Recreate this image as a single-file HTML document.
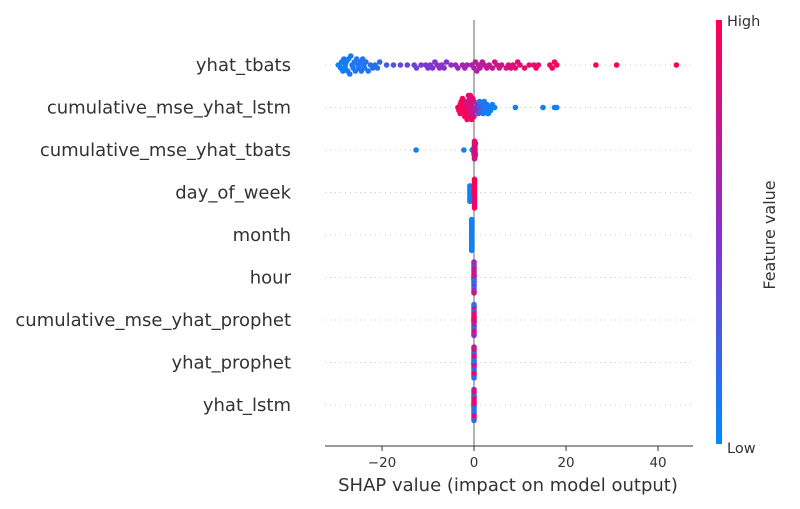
<!DOCTYPE html>
<html><head><meta charset="utf-8"><style>
html,body{margin:0;padding:0;background:#fff;}
svg{display:block;font-family:"DejaVu Sans","Liberation Sans",sans-serif;}
</style></head><body>
<svg id="chart" width="800" height="509" viewBox="0 0 800 509">
<defs>
<linearGradient id="cb" x1="0" y1="1" x2="0" y2="0">
<stop offset="0" stop-color="#008afb"/><stop offset="0.5" stop-color="#8a2fc8"/><stop offset="1" stop-color="#ff0052"/>
</linearGradient>
</defs>
<g id="grid"></g>
<line x1="474" y1="20" x2="474" y2="446" stroke="#999" stroke-width="1.5"/>
<g id="dots"></g>
<g id="labels"></g>
<line x1="325" y1="446" x2="693" y2="446" stroke="#333" stroke-width="1"/>
<g id="ticks"></g>
<text x="508" y="491" text-anchor="middle" font-size="18" fill="#333">SHAP value (impact on model output)</text>
<rect x="716" y="20" width="6" height="424" fill="url(#cb)"/>
<text x="727" y="26" font-size="14.5" fill="#333">High</text>
<text x="727" y="453" font-size="14.5" fill="#333">Low</text>
<text transform="translate(775,235) rotate(-90)" text-anchor="middle" font-size="16" fill="#333">Feature value</text>
</svg>
<script>
const features = ["yhat_tbats","cumulative_mse_yhat_lstm","cumulative_mse_yhat_tbats","day_of_week","month","hour","cumulative_mse_yhat_prophet","yhat_prophet","yhat_lstm"];
const xTicks = [-20, 0, 20, 40];
const shapTbats = [-29.5,-29.3,-29,-28.8,-28.5,-28.3,-28,-28,-27.8,-27.5,-27.3,-27,-26.8,-26.5,-26.3,-26,-25.8,-25.5,-25.2,-25,-24.8,-24.5,-24.2,-24,-23.8,-23.5,-23,-22.5,-22,-21.5,-21,-20.5,-19,-17.5,-16,-14.5,-13,-12.5,-11.5,-10.5,-10,-9.5,-9,-8.5,-8,-7.5,-7,-6.5,-6,-5,-4,-3.5,-2.5,-2,-1.5,-0.5,0,0.3,0.6,1,1.3,1.8,2.2,2.8,3.3,4,4.5,5,5.5,6,7,7.5,8,8.5,9,9.5,10,11,12,13,13.5,14,16.5,17,17.5,18,26.5,31,44];
const featTbats = [0.05,0.05,0.05,0.08,0.05,0.1,0.06,0.05,0.1,0.08,0.06,0.1,0.1,0.08,0.1,0.12,0.08,0.1,0.12,0.1,0.1,0.12,0.12,0.1,0.12,0.15,0.12,0.15,0.15,0.15,0.15,0.18,0.25,0.3,0.35,0.38,0.4,0.38,0.42,0.45,0.43,0.45,0.48,0.45,0.47,0.5,0.48,0.5,0.5,0.52,0.55,0.55,0.58,0.6,0.6,0.65,0.62,0.68,0.66,0.7,0.68,0.72,0.7,0.72,0.75,0.74,0.76,0.78,0.77,0.8,0.8,0.82,0.82,0.84,0.85,0.85,0.86,0.88,0.88,0.9,0.92,0.92,0.95,0.96,0.97,0.97,1,1,1];
const shapLstm = [-3.5,-3.3,-3,-3,-2.8,-2.5,-2.5,-2.2,-2,-2,-1.8,-1.5,-1.5,-1.3,-1,-1,-0.8,-0.5,-0.5,-0.3,0,0,-0.3,-0.5,-1,-1.5,-2,-2.5,-0.8,-1.2,0.3,0.5,0.8,1,1.3,1.5,1.8,2,2.3,2.5,2.8,3,3.3,3.6,4,4.5,1.2,2.2,3.1,9,15,17.5,18];
const featLstm = [1,0.95,1,0.9,0.95,0.92,1,0.9,0.95,0.85,0.9,0.92,0.85,0.88,0.8,0.9,0.85,0.75,0.8,0.7,0.65,0.75,0.9,0.95,0.85,0.92,1,0.95,0.9,0.85,0.5,0.6,0.4,0.3,0.25,0.2,0.15,0.1,0.12,0.1,0.08,0.05,0.08,0.05,0.05,0.05,0.1,0.08,0.05,0.05,0.05,0.05,0.05];
const shapMseTbats = [-12.6,-2.2,-0.4,0,0,0,0.1,0.1,0.1,0.2,0.2,0.2,0.3,0.1,0.2,0.2,0.1,0.3];
const featMseTbats = [0.05,0.05,0.05,0.8,0.85,0.75,0.8,0.9,0.7,0.85,0.8,0.9,0.8,0.75,0.85,0.8,0.95,0.85];
const shapDow = [-0.9,-0.9,-0.9,-0.9,-0.9,-0.9,-0.9,-0.9,0.1,0.1,0.1,0.1,0.1,0.1,0.1,0.1,0.1,0.1,0.1,0.1,0.1,0.1];
const featDow = [0.05,0.05,0.05,0.05,0.05,0.05,0.05,0.05,1,0.95,1,0.9,1,0.95,1,0.9,1,0.95,1,0.9,1,0.95];
const shapMonth = [-0.5,-0.5,-0.5,-0.5,-0.5,-0.5,-0.5,-0.5,-0.5,-0.5,-0.5,-0.5,-0.5,-0.5,-0.5,-0.5,-0.5];
const featMonth = [0.05,0.05,0.05,0.05,0.05,0.05,0.05,0.05,0.05,0.05,0.05,0.05,0.05,0.05,0.05,0.05,0.05];
const shapHour = [0,0,0,0,0,0,0,0,0,0,0,0,0,0,0,0,0];
const featHour = [0.5,0.8,0.2,0.9,0.6,0.1,0.85,0.4,0.7,0.15,0.9,0.5,0.3,0.8,0.6,0.1,0.75];
const shapProphetMse = [0,0,0,0,0,0,0,0,0,0,0,0,0,0,0,0,0];
const featProphetMse = [0.85,0.9,0.7,0.2,0.85,0.6,0.9,0.1,0.8,0.75,0.2,0.9,0.85,0.5,0.15,0.8,0.9];
const shapProphet = [0,0,0,0,0,0,0,0,0,0,0,0,0,0,0,0,0];
const featProphet = [0.9,0.8,0.2,0.95,0.85,0.3,0.9,0.1,0.8,0.95,0.2,0.85,0.9,0.15,0.7,0.8,0.1];
const shapYLstm = [0,0,0,0,0,0,0,0,0,0,0,0,0,0,0,0,0];
const featYLstm = [0.9,0.8,0.95,0.1,0.85,0.2,0.9,0.15,0.8,0.95,0.1,0.85,0.9,0.2,0.7,0.1,0.85];

const shapSeries = [shapTbats,shapLstm,shapMseTbats,shapDow,shapMonth,shapHour,shapProphetMse,shapProphet,shapYLstm];
const featSeries = [featTbats,featLstm,featMseTbats,featDow,featMonth,featHour,featProphetMse,featProphet,featYLstm];

const NS="http://www.w3.org/2000/svg";
const x0=325,x1=693,vmin=-32.4,vmax=47.6;
function xScale(v){return x0+(v-vmin)/(vmax-vmin)*(x1-x0);}
function rowY(i){return 65+i*42.5;}
function color(t){
  const a=[0,138,251],m=[138,47,200],b=[255,0,82];
  let c;
  if(t<0.5){const u=t/0.5;c=a.map((v,k)=>Math.round(v+(m[k]-v)*u));}
  else{const u=(t-0.5)/0.5;c=m.map((v,k)=>Math.round(v+(b[k]-v)*u));}
  return "rgb("+c.join(",")+")";
}
const grid=document.getElementById('grid'),dots=document.getElementById('dots'),labels=document.getElementById('labels'),ticks=document.getElementById('ticks');
features.forEach((f,i)=>{
  const y=rowY(i);
  const g=document.createElementNS(NS,'line');
  g.setAttribute('x1',x0);g.setAttribute('x2',x1);g.setAttribute('y1',y);g.setAttribute('y2',y);
  g.setAttribute('stroke','#ccc');g.setAttribute('stroke-dasharray','1,4');g.setAttribute('stroke-width','1');
  
  
  grid.appendChild(g);
  const t=document.createElementNS(NS,'text');
  t.setAttribute('x',291);t.setAttribute('y',y+6);t.setAttribute('text-anchor','end');
  t.setAttribute('font-size','18');t.setAttribute('fill','#333');t.textContent=f;
  
  
  labels.appendChild(t);
  const vals=shapSeries[i],cols=featSeries[i];
  const bins={};
  const bw=(i===0)?6:4.5;
  vals.forEach((v,j)=>{
    const px=xScale(v);
    const b=Math.round(px/bw);
    const k=bins[b]||0;bins[b]=k+1;
    const layer=Math.ceil(k/2)*(k%2?1:-1);
    let off=layer*(i<2?3:2.2);
    if(Math.abs(off)>16){off=(off%16);}
    const c=document.createElementNS(NS,'circle');
    c.setAttribute('cx',px.toFixed(1));c.setAttribute('cy',(y+off).toFixed(1));c.setAttribute('r','2.8');
    c.setAttribute('fill',color(cols[j]));
    
    
    dots.appendChild(c);
  });
});
xTicks.forEach(v=>{
  const px=xScale(v);
  const l=document.createElementNS(NS,'line');
  l.setAttribute('x1',px);l.setAttribute('x2',px);l.setAttribute('y1',446);l.setAttribute('y2',451);
  l.setAttribute('stroke','#333');
  
  
  ticks.appendChild(l);
  const t=document.createElementNS(NS,'text');
  t.setAttribute('x',px);t.setAttribute('y',467);t.setAttribute('text-anchor','middle');
  t.setAttribute('font-size','13.5');t.setAttribute('fill','#333');
  t.textContent=v<0?'\u2212'+Math.abs(v):String(v);
  
  
  ticks.appendChild(t);
});
</script>
</body></html>
